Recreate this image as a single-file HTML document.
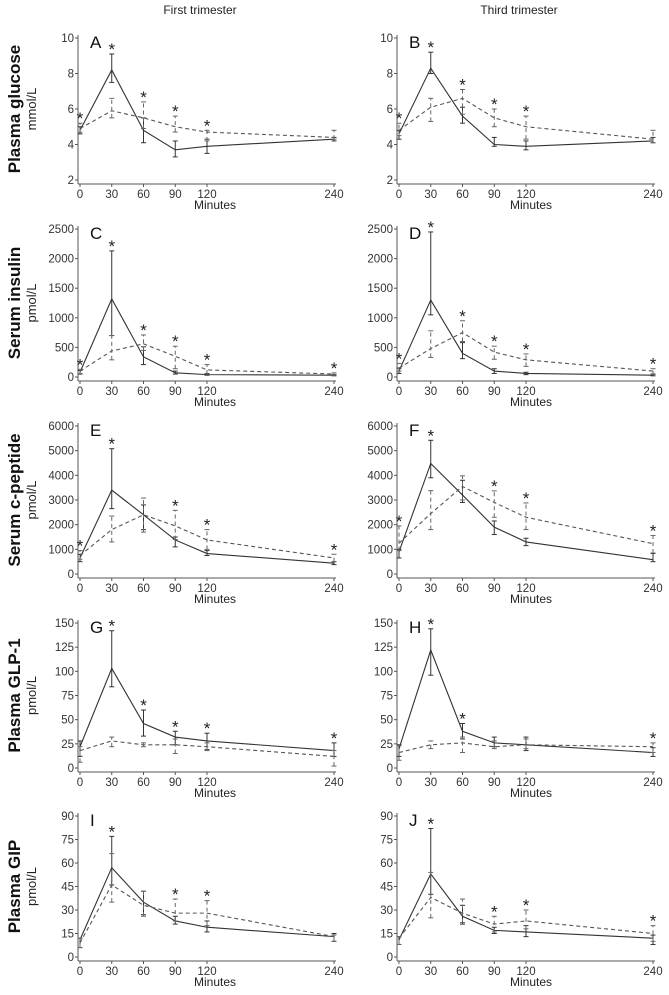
<!DOCTYPE html>
<html><head><meta charset="utf-8">
<style>
body{margin:0;background:#fff;}
svg{font-family:"Liberation Sans",sans-serif;}
</style></head>
<body>
<svg id="fig" width="669" height="990" viewBox="0 0 669 990" xmlns="http://www.w3.org/2000/svg">
<text x="200" y="14" font-size="12" text-anchor="middle" fill="#222">First trimester</text>
<text x="519" y="14" font-size="12" text-anchor="middle" fill="#222">Third trimester</text>
</svg>
<script>
const times = [0,30,60,90,120,240];
const rowLabels = ["Plasma glucose","Serum insulin","Serum c-peptide","Plasma GLP-1","Plasma GIP"];
const rowUnits = ["mmol/L","pmol/L","pmol/L","pmol/L","pmol/L"];
const rowTicks = [[2,4,6,8,10],[0,500,1000,1500,2000,2500],[0,1000,2000,3000,4000,5000,6000],[0,25,50,75,100,125,150],[0,15,30,45,60,75,90]];
const panelLetters = ["A","B","C","D","E","F","G","H","I","J"];
const solidMean = [
 [4.8,8.2,4.8,3.7,3.9,4.3],[4.6,8.3,5.6,4.0,3.9,4.2],
 [80,1320,340,70,40,30],[100,1300,400,100,60,30],
 [650,3400,2400,1380,830,440],[900,4480,3200,1900,1300,580],
 [22,103,46,32,28,18],[20,122,38,26,24,16],
 [11,57,35,23,19,13],[11,53,26,17,16,12]];
const solidLo = [
 [4.6,7.5,4.1,3.3,3.5,4.2],[4.3,8.0,5.2,3.9,3.7,4.1],
 [50,700,210,50,30,20],[60,1050,310,60,40,20],
 [500,2650,1800,1100,750,380],[650,3900,2900,1600,1150,500],
 [12,84,33,24,19,12],[12,96,30,22,18,12],
 [6,46,27,21,16,10],[8,40,21,15,13,8]];
const solidHi = [
 [5.0,9.1,5.5,4.2,4.3,4.4],[4.8,9.2,6.1,4.4,4.2,4.4],
 [110,2130,510,100,60,40],[150,2450,580,140,80,50],
 [800,5080,2800,1500,950,500],[1000,5420,3800,2150,1450,830],
 [28,142,60,38,36,26],[24,144,46,32,32,21],
 [12,77,42,26,23,15],[13,82,33,19,20,14]];
const dashMean = [
 [4.9,5.9,5.5,5.0,4.7,4.4],[4.8,6.1,6.6,5.5,5.0,4.3],
 [100,440,560,350,120,50],[150,480,750,420,290,100],
 [750,1800,2400,1950,1380,650],[1250,2450,3550,2900,2300,1230],
 [18,28,24,24,22,12],[16,24,26,22,24,22],
 [9,46,33,28,28,13],[12,38,28,21,23,15]];
const dashLo = [
 [4.7,5.5,4.9,4.7,4.2,4.3],[4.5,5.3,5.7,5.0,4.3,4.1],
 [60,290,450,140,50,30],[100,330,600,300,180,40],
 [600,1300,1700,1400,1000,500],[950,1800,3000,2300,1800,850],
 [6,22,22,15,18,2],[8,20,16,20,20,16],
 [6,35,26,23,20,10],[8,25,22,16,18,10]];
const dashHi = [
 [5.2,6.6,6.4,5.6,4.8,4.8],[5.2,6.6,7.1,6.0,5.6,4.8],
 [130,700,710,520,210,70],[230,780,950,520,390,140],
 [950,2350,3080,2580,1800,800],[1950,3380,3980,3370,2880,1560],
 [22,32,26,30,26,18],[23,28,32,28,30,26],
 [12,66,42,37,36,14],[13,54,37,26,30,20]];
const starTimes = [
 [0,30,60,90,120],[0,30,60,90,120],
 [0,30,60,90,120,240],[0,30,60,90,120,240],
 [0,30,90,120,240],[0,30,90,120,240],
 [30,60,90,120,240],[30,60,240],
 [30,90,120],[30,90,120,240]];

const NS="http://www.w3.org/2000/svg";
const svg=document.getElementById('fig');
function mk(tag,attrs,parent){const e=document.createElementNS(NS,tag);for(const k in attrs)e.setAttribute(k,attrs[k]);(parent||svg).appendChild(e);return e;}
const rowTop=[38,229,426,623,816], rowBot=[180,377,574,768,957];
const colX0=[80,399], colX240=[334,653];

for(let r=0;r<5;r++){
  const mid=(rowTop[r]+rowBot[r])/2;
  const lab=mk('text',{x:0,y:0,'font-size':17,'font-weight':'bold','text-anchor':'middle',fill:'#111',transform:`translate(20,${mid}) rotate(-90)`});
  
  
  lab.textContent=rowLabels[r];
  const un=mk('text',{x:0,y:0,'font-size':13,'text-anchor':'middle',fill:'#222',transform:`translate(36,${mid}) rotate(-90)`});
  
  
  un.textContent=rowUnits[r];
  for(let c=0;c<2;c++){
    const p=r*2+c;
    const g=mk('g',{});
    
    
    const ticks=rowTicks[r], tmin=ticks[0], tmax=ticks[ticks.length-1];
    const y=v=>rowBot[r]-(v-tmin)/(tmax-tmin)*(rowBot[r]-rowTop[r]);
    const x=t=>colX0[c]+t/240*(colX240[c]-colX0[c]);
    const ax=colX0[c]-2, bottom=rowBot[r]+4;
    const ya=mk('line',{x1:ax,y1:rowTop[r]-3,x2:ax,y2:bottom,stroke:'#555','stroke-width':1},g);
    
    
    const xa=mk('line',{x1:ax,y1:bottom,x2:colX240[c]+2,y2:bottom,stroke:'#555','stroke-width':1},g);
    
    
    ticks.forEach(v=>{
      mk('line',{x1:ax-3,y1:y(v),x2:ax,y2:y(v),stroke:'#555'},g);
      const t=mk('text',{x:ax-4,y:y(v)+4,'font-size':11.5,'text-anchor':'end',fill:'#333'},g);
      
      
      t.textContent=v;
    });
    times.forEach(tm=>{
      mk('line',{x1:x(tm),y1:bottom,x2:x(tm),y2:bottom+3,stroke:'#555'},g);
      const t=mk('text',{x:x(tm),y:bottom+14,'font-size':11.5,'text-anchor':'middle',fill:'#333'},g);
      
      
      t.textContent=tm;
    });
    const xt=mk('text',{x:(colX0[c]+colX240[c])/2+(c?5:8),y:bottom+25,'font-size':12,'text-anchor':'middle',fill:'#222'},g);
    
    
    xt.textContent='Minutes';
    const L=mk('text',{x:ax+12,y:rowTop[r]+10,'font-size':17,fill:'#111'},g);
    
    
    L.textContent=panelLetters[p];
    const series=[[solidMean,solidLo,solidHi,'none','solid'],[dashMean,dashLo,dashHi,'4,3','dashed']];
    series.forEach(([m,lo,hi,dash,nm])=>{
      const pts=times.map((tm,i)=>x(tm)+','+y(m[p][i])).join(' ');
      const pl=mk('polyline',{points:pts,fill:'none',stroke:nm==='solid'?'#333':'#555','stroke-width':1.1,'stroke-dasharray':dash},g);
      
      
      times.forEach((tm,i)=>{
        const eb=mk('g',{stroke:nm==='solid'?'#333':'#666','stroke-width':1},g);
        
        
        const xx=x(tm);
        mk('line',{x1:xx,y1:y(lo[p][i]),x2:xx,y2:y(hi[p][i]),'stroke-dasharray':dash},eb);
        mk('line',{x1:xx-2.5,y1:y(lo[p][i]),x2:xx+2.5,y2:y(lo[p][i])},eb);
        mk('line',{x1:xx-2.5,y1:y(hi[p][i]),x2:xx+2.5,y2:y(hi[p][i])},eb);
      });
    });
    starTimes[p].forEach(tm=>{
      const i=times.indexOf(tm);
      const top=Math.max(solidHi[p][i],dashHi[p][i]);
      const s=mk('text',{x:x(tm),y:y(top)+1,'font-size':17,'text-anchor':'middle',fill:'#222'},g);
      
      
      s.textContent='*';
    });
  }
}
</script>
</body></html>
